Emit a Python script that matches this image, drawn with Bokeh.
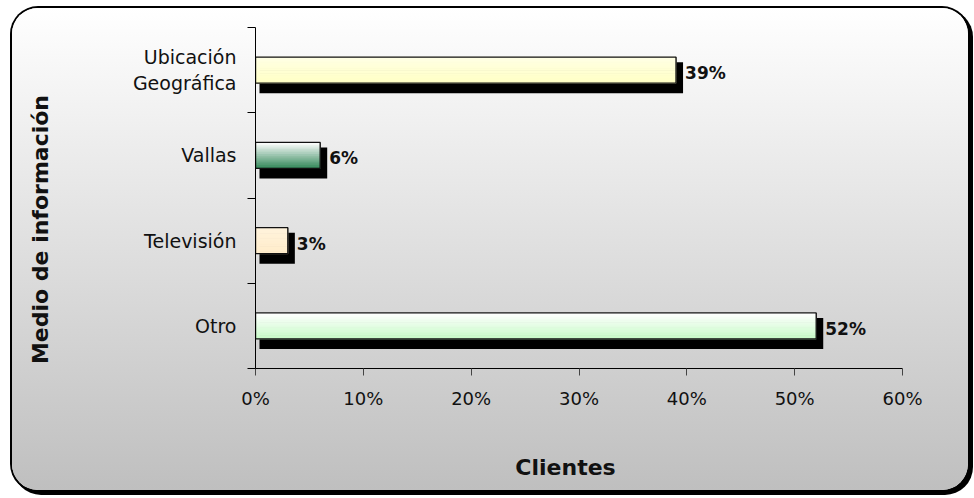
import numpy as np
from bokeh.plotting import figure
from bokeh.models import FixedTicker, PrintfTickFormatter, Label
from bokeh.core.properties import value
from bokeh.embed import file_html
from bokeh.resources import INLINE

# ---------------- data ----------------
categories = ["Otro", "Televisión", "Vallas", "Ubicación\nGeográfica"]
values = [52, 3, 6, 39]
value_labels = ["52%", "3%", "6%", "39%"]
x_ticks = [0, 10, 20, 30, 40, 50, 60]
x_title = "Clientes"
y_title = "Medio de información"

# ---------------- style ----------------
top_colors = ["#ffffff", "#fff3dc", "#ffffff", "#ffffe4"]
bottom_colors = ["#c6fbc6", "#ffecca", "#2e8656", "#ffffc4"]

W, H = 956, 482
FL, FR, FT, FB = 243, 66, 19, 122
frame_w = W - FL - FR
frame_h = H - FT - FB
X_MAX = x_ticks[-1]
Y_MAX = len(categories)
px_x = X_MAX / frame_w
px_y = Y_MAX / frame_h

p = figure(width=W, height=H, x_range=(0, X_MAX), y_range=(0, Y_MAX),
           output_backend="svg", toolbar_location=None,
           min_border_left=FL, min_border_right=FR,
           min_border_top=FT, min_border_bottom=FB)
p.margin = (8, 0, 0, 12)
p.border_fill_alpha = 0
p.background_fill_alpha = 0
p.outline_line_color = None
p.grid.visible = False
p.styles = {
    "background": "linear-gradient(180deg, #ffffff 0%, #bfbfbf 100%)",
    "border-radius": "26px",
    "box-shadow": "0 0 0 2px #000, 3px 3px 0 2px #000",
}

centers = np.arange(len(categories)) + 0.5
hh = 13 * px_y

# shadows
p.quad(left=[4 * px_x] * len(values),
       right=[v + 7 * px_x for v in values],
       top=[c + hh - 5 * px_y for c in centers],
       bottom=[c - hh - 10 * px_y for c in centers],
       fill_color="#000000", line_color=None)


def hex2rgb(h):
    h = h.lstrip("#")
    return np.array([int(h[i:i + 2], 16) for i in (0, 2, 4)], dtype=float)


# gradient bars
N = 14
L, R, T, B, C = [], [], [], [], []
for v, c, tc, bc in zip(values, centers, top_colors, bottom_colors):
    t_rgb, b_rgb = hex2rgb(tc), hex2rgb(bc)
    for j in range(N):
        f = (j + 0.5) / N
        rgb = b_rgb + (t_rgb - b_rgb) * f
        L.append(0)
        R.append(v)
        B.append(c - hh + 2 * hh * j / N)
        T.append(c - hh + 2 * hh * (j + 1) / N)
        C.append("#%02x%02x%02x" % tuple(int(round(x)) for x in rgb))
p.quad(left=L, right=R, top=T, bottom=B, fill_color=C, line_color=C, line_width=1)

# bar outlines
p.quad(left=[0] * len(values), right=values,
       top=[c + hh for c in centers], bottom=[c - hh for c in centers],
       fill_color=None, line_color="#111111", line_width=1.4)

# value labels
p.text(x=values, y=list(centers), text=value_labels,
       x_offset=9, y_offset=3,
       text_font=value("DejaVu Sans"), text_font_style="bold",
       text_font_size="17px", text_baseline="middle", text_align="left",
       text_color="#111111")

# x axis
xa = p.xaxis[0]
xa.ticker = FixedTicker(ticks=x_ticks, minor_ticks=[])
xa.formatter = PrintfTickFormatter(format="%d%%")
xa.major_tick_out = 7
xa.major_tick_in = 0
xa.major_label_standoff = 12
xa.major_label_text_font = "DejaVu Sans"
xa.major_label_text_font_size = "18px"
xa.major_label_text_color = "#111111"
xa.axis_line_color = "#000000"
xa.major_tick_line_color = "#444444"

# y axis
ya = p.yaxis[0]
ya.ticker = FixedTicker(ticks=list(centers), minor_ticks=list(range(len(categories) + 1)))
ya.major_label_overrides = {float(c): cat for c, cat in zip(centers, categories)}
ya.major_tick_out = 0
ya.major_tick_in = 0
ya.minor_tick_out = 8
ya.minor_tick_in = 0
ya.major_label_standoff = 11
ya.major_label_text_font = "DejaVu Sans"
ya.major_label_text_font_size = "19px"
ya.major_label_text_color = "#111111"
ya.major_label_text_align = "right"
ya.axis_line_color = "#000000"
ya.minor_tick_line_color = "#000000"

# titles as labels placed in the side panels (so they are not clipped to the frame)
p.add_layout(Label(x=310 * px_x, y=-99 * px_y,
                   text=x_title, text_font="DejaVu Sans", text_font_style="bold",
                   text_font_size="22px", text_align="center",
                   text_baseline="middle", text_color="#111111"), "below")
p.add_layout(Label(x=-215 * px_x, y=139 * px_y,
                   text=y_title, angle=np.pi / 2,
                   text_font="DejaVu Sans", text_font_style="bold",
                   text_font_size="22px", text_align="center",
                   text_baseline="middle", text_color="#111111"), "left")

open("out.html", "w").write(file_html(p, INLINE))
